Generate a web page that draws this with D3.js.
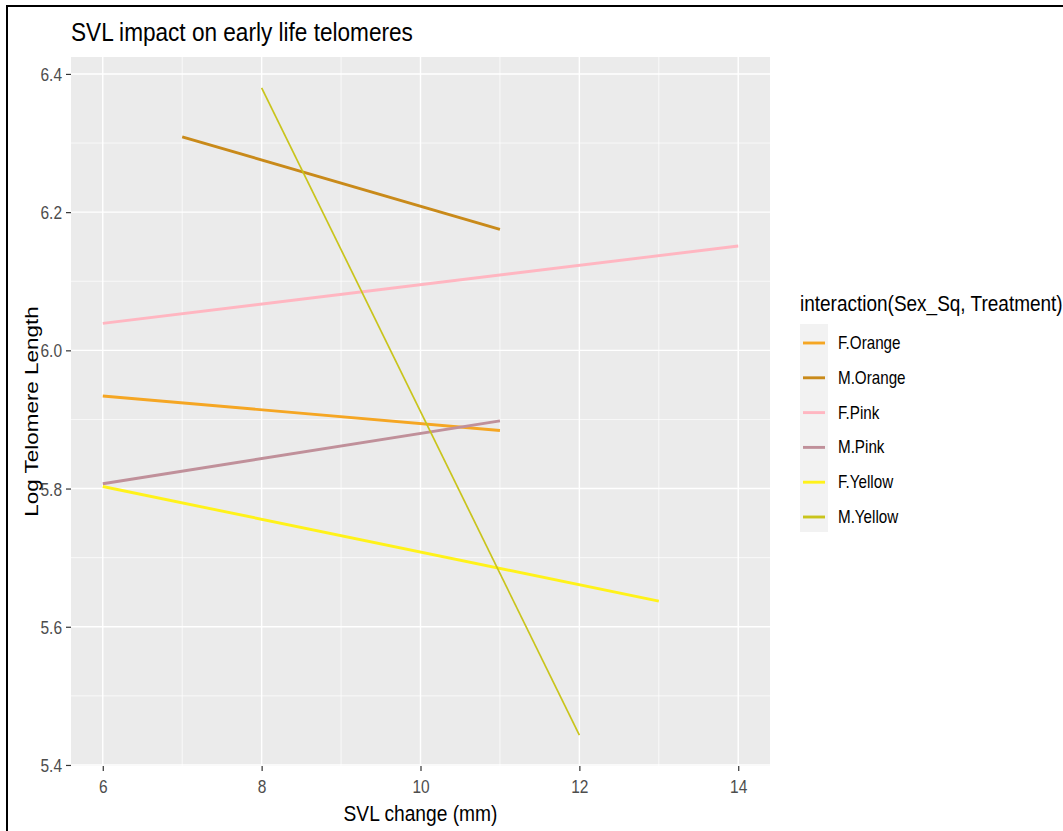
<!DOCTYPE html>
<html>
<head>
<meta charset="utf-8">
<script src="https://cdn.jsdelivr.net/npm/d3@7"></script>
<style>
  body { margin: 0; background: #fff; }
  svg text { font-family: "Liberation Sans", Arial, sans-serif; }
</style>
</head>
<body>
<div id="chart"></div>
<script>
// data (fitted lines, start and end points)
var groups = ["F.Orange", "M.Orange", "F.Pink", "M.Pink", "F.Yellow", "M.Yellow"];
var colors = ["#F5A623", "#C98A1A", "#FFB6C1", "#C0909A", "#FFF21A", "#C9C41C"];
var widths = [2.9, 2.9, 2.9, 2.9, 2.9, 1.7];
var svlStart = [6, 7, 6, 6, 6, 8];
var svlEnd = [11, 11, 14, 11, 13, 12];
var telStart = [5.934, 6.309, 6.039, 5.807, 5.803, 6.380];
var telEnd = [5.884, 6.175, 6.151, 5.898, 5.637, 5.443];
var xTicks = [6, 8, 10, 12, 14];
var yTicks = [5.4, 5.6, 5.8, 6.0, 6.2, 6.4];

var W = 1063, H = 831;
var stretch = 1.17; // the picture is a bit taller than wide, text looks squeezed

var svg = d3.select("#chart").append("svg")
  .attr("width", W)
  .attr("height", H);

// put text at x,y (baseline) and stretch it vertically
function label(parent, x, y, size, txt, anchor, rot) {
  var t = parent.append("text")
    .attr("transform", "translate(" + x + "," + y + ")" +
      (rot ? " rotate(-90) scale(" + stretch + ",1)" : " scale(1," + stretch + ")"))
    .attr("text-anchor", anchor || "start")
    .style("font-size", size + "px")
    .attr("fill", "#000")
    .text(txt);
  return t;
}

// outer frame
svg.append("rect")
  .attr("x", 7).attr("y", 6)
  .attr("width", W).attr("height", H)
  .attr("fill", "none")
  .attr("stroke", "#000")
  .attr("stroke-width", 2);

var margin = { top: 57, left: 71, right: 293, bottom: 65 };
var pw = W - margin.left - margin.right;
var ph = H - margin.top - margin.bottom;

var g = svg.append("g")
  .attr("transform", "translate(" + margin.left + "," + margin.top + ")");

var xScale = d3.scaleLinear().domain([5.6, 14.4]).range([0, pw]);
var yScale = d3.scaleLinear().domain([5.3985, 6.4245]).range([ph, 0]);

g.append("rect")
  .attr("width", pw).attr("height", ph)
  .attr("fill", "#EBEBEB");

// minor grid
var xMinor = [7, 9, 11, 13];
var yMinor = [5.5, 5.7, 5.9, 6.1, 6.3];
g.selectAll(".xminor").data(xMinor).enter().append("line")
  .attr("x1", d => xScale(d)).attr("x2", d => xScale(d))
  .attr("y1", 0).attr("y2", ph)
  .attr("stroke", "#fff").attr("stroke-width", 0.7);
g.selectAll(".yminor").data(yMinor).enter().append("line")
  .attr("y1", d => yScale(d)).attr("y2", d => yScale(d))
  .attr("x1", 0).attr("x2", pw)
  .attr("stroke", "#fff").attr("stroke-width", 0.7);

// major grid
g.selectAll(".xmajor").data(xTicks).enter().append("line")
  .attr("x1", d => xScale(d)).attr("x2", d => xScale(d))
  .attr("y1", 0).attr("y2", ph)
  .attr("stroke", "#fff").attr("stroke-width", 1.4);
g.selectAll(".ymajor").data(yTicks).enter().append("line")
  .attr("y1", d => yScale(d)).attr("y2", d => yScale(d))
  .attr("x1", 0).attr("x2", pw)
  .attr("stroke", "#fff").attr("stroke-width", 1.4);

// axes
var xAxis = d3.axisBottom(xScale).tickValues(xTicks).tickSize(5)
  .tickFormat(d3.format("d"));
var yAxis = d3.axisLeft(yScale).tickValues(yTicks).tickSize(5)
  .tickFormat(d3.format(".1f"));

var gx = g.append("g").attr("transform", "translate(0," + ph + ")").call(xAxis);
var gy = g.append("g").call(yAxis);
[gx, gy].forEach(function (a) {
  a.select(".domain").remove();
  a.selectAll("line").attr("stroke", "#333").attr("stroke-width", 1.2);
  a.selectAll("text").attr("fill", "#4D4D4D").style("font-size", "15.5px")
    .attr("x", 0).attr("y", 0).attr("dy", 0);
});
gx.selectAll("text").attr("transform", "translate(0,27) scale(1," + stretch + ")");
gy.selectAll("text").attr("transform", "translate(-9,6.5) scale(1," + stretch + ")");

// lines
var line = d3.line()
  .x(d => xScale(d[0]))
  .y(d => yScale(d[1]));

groups.forEach(function (name, i) {
  var pts = [[svlStart[i], telStart[i]], [svlEnd[i], telEnd[i]]];
  g.append("path")
    .datum(pts)
    .attr("d", line)
    .attr("fill", "none")
    .attr("stroke", colors[i])
    .attr("stroke-width", widths[i]);
});

// titles
label(svg, 71, 41, 22.6, "SVL impact on early life telomeres");
label(svg, margin.left + pw / 2, 821, 19.2, "SVL change (mm)", "middle");
label(svg, 38, margin.top + ph / 2, 19.2, "Log Telomere Length", "middle", true);

// legend
var lg = svg.append("g").attr("transform", "translate(800,0)");
label(lg, 0, 311, 19, "interaction(Sex_Sq, Treatment)");

var keyY = d3.scalePoint().domain(groups).range([343, 517]);
lg.append("rect")
  .attr("x", 0).attr("y", 324)
  .attr("width", 28).attr("height", 208)
  .attr("fill", "#F2F2F2");

groups.forEach(function (name, i) {
  lg.append("line")
    .attr("x1", 3).attr("x2", 25)
    .attr("y1", keyY(name)).attr("y2", keyY(name))
    .attr("stroke", colors[i])
    .attr("stroke-width", 2.9);
  label(lg, 38, keyY(name) + 6, 15.2, name);
});
</script>
</body>
</html>
